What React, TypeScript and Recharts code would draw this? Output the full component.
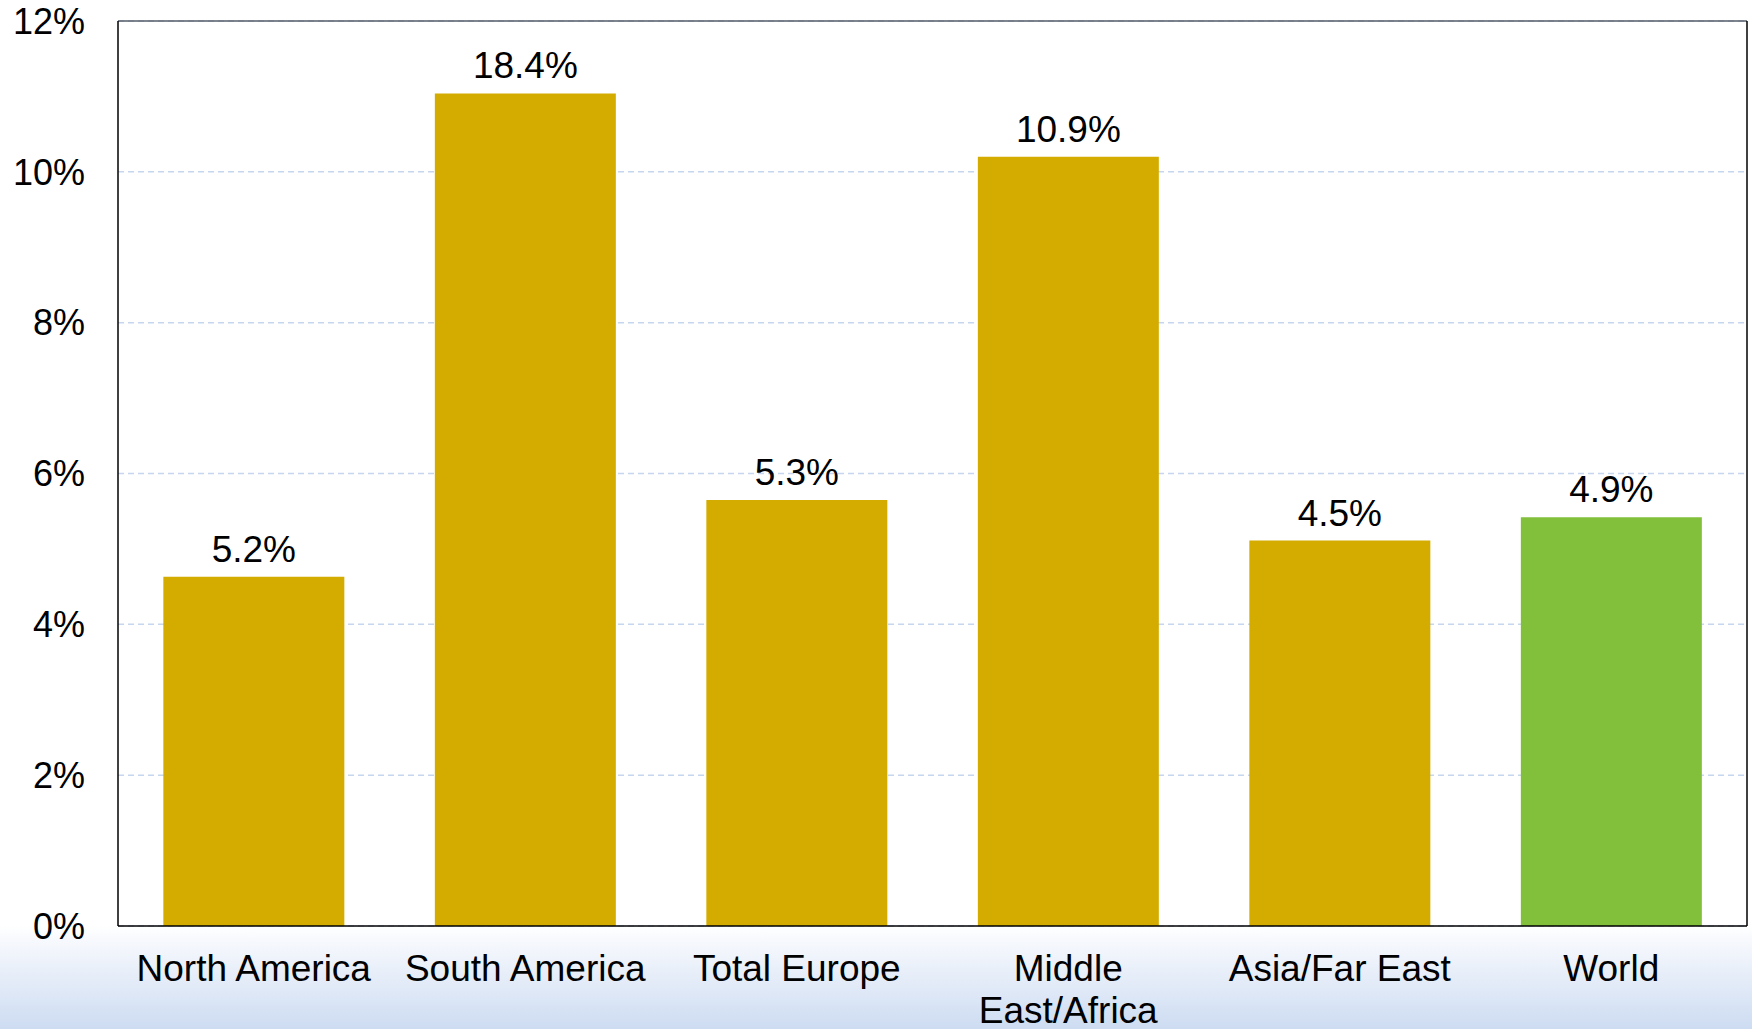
import React from 'react';
import { BarChart, Bar, XAxis, YAxis, CartesianGrid, ReferenceLine, LabelList, Cell } from 'recharts';

const CATEGORIES = ['North America', 'South America', 'Total Europe', 'Middle\nEast/Africa', 'Asia/Far East', 'World'];
// bar heights as drawn (axis %), and the printed labels above them
const HEIGHTS = [4.63, 11.04, 5.65, 10.2, 5.11, 5.42];
const LABELS = ['5.2%', '18.4%', '5.3%', '10.9%', '4.5%', '4.9%'];
const Y_TICKS = [0, 2, 4, 6, 8, 10, 12];

const GOLD = '#D4AC00';
const GREEN = '#82BF3A';
const FONT = '"Liberation Sans", Arial, sans-serif';

const data = CATEGORIES.map((name, i) => ({ name, value: HEIGHTS[i], label: LABELS[i] }));

function CategoryTick(props: any) {
  const { x, y, payload } = props;
  const lines = String(payload.value).split('\n');
  return (
    <text x={x} y={y} textAnchor="middle" fill="#000" fontSize={37} fontFamily={FONT}>
      {lines.map((line, i) => (
        <tspan key={i} x={x} dy={i === 0 ? 55 : 42}>
          {line}
        </tspan>
      ))}
    </text>
  );
}

export default function App() {
  return (
    <div
      style={{
        position: 'absolute',
        top: 0,
        left: 0,
        width: 1752,
        height: 1029,
        background: 'linear-gradient(to bottom, #ffffff 0px, #ffffff 926px, #f7f9fd 940px, #cddcf2 1029px)',
      }}
    >
      <BarChart
        width={1752}
        height={1029}
        data={data}
        margin={{ top: 21, right: 0, left: 0, bottom: 0 }}
        barCategoryGap="16.7%"
      >
        <CartesianGrid vertical={false} stroke="#c6d6ee" strokeWidth={1.5} strokeDasharray="6 4" yAxisId="left" />
        <XAxis
          dataKey="name"
          height={103}
          tickLine={false}
          tickSize={0}
          tickMargin={0}
          axisLine={{ stroke: '#000', strokeWidth: 1.5 }}
          tick={<CategoryTick />}
          interval={0}
        />
        <YAxis
          yAxisId="left"
          width={118}
          domain={[0, 12]}
          ticks={Y_TICKS}
          tickFormatter={(v: number) => `${v}%`}
          tickLine={false}
          tickSize={0}
          tickMargin={33}
          axisLine={{ stroke: '#000', strokeWidth: 1.5 }}
          tick={{ fill: '#000', fontSize: 36, fontFamily: FONT }}
        />
        <YAxis
          yAxisId="right"
          orientation="right"
          width={5}
          domain={[0, 12]}
          tick={false}
          tickLine={false}
          axisLine={{ stroke: '#000', strokeWidth: 1.5 }}
        />
        <ReferenceLine yAxisId="left" y={12} stroke="#555d66" strokeWidth={1.5} />
        <Bar yAxisId="left" dataKey="value" isAnimationActive={false}>
          {data.map((d, i) => (
            <Cell key={d.name} fill={i === data.length - 1 ? GREEN : GOLD} />
          ))}
          <LabelList dataKey="label" position="top" offset={15} fill="#000" fontSize={37} fontFamily={FONT} />
        </Bar>
      </BarChart>
    </div>
  );
}
